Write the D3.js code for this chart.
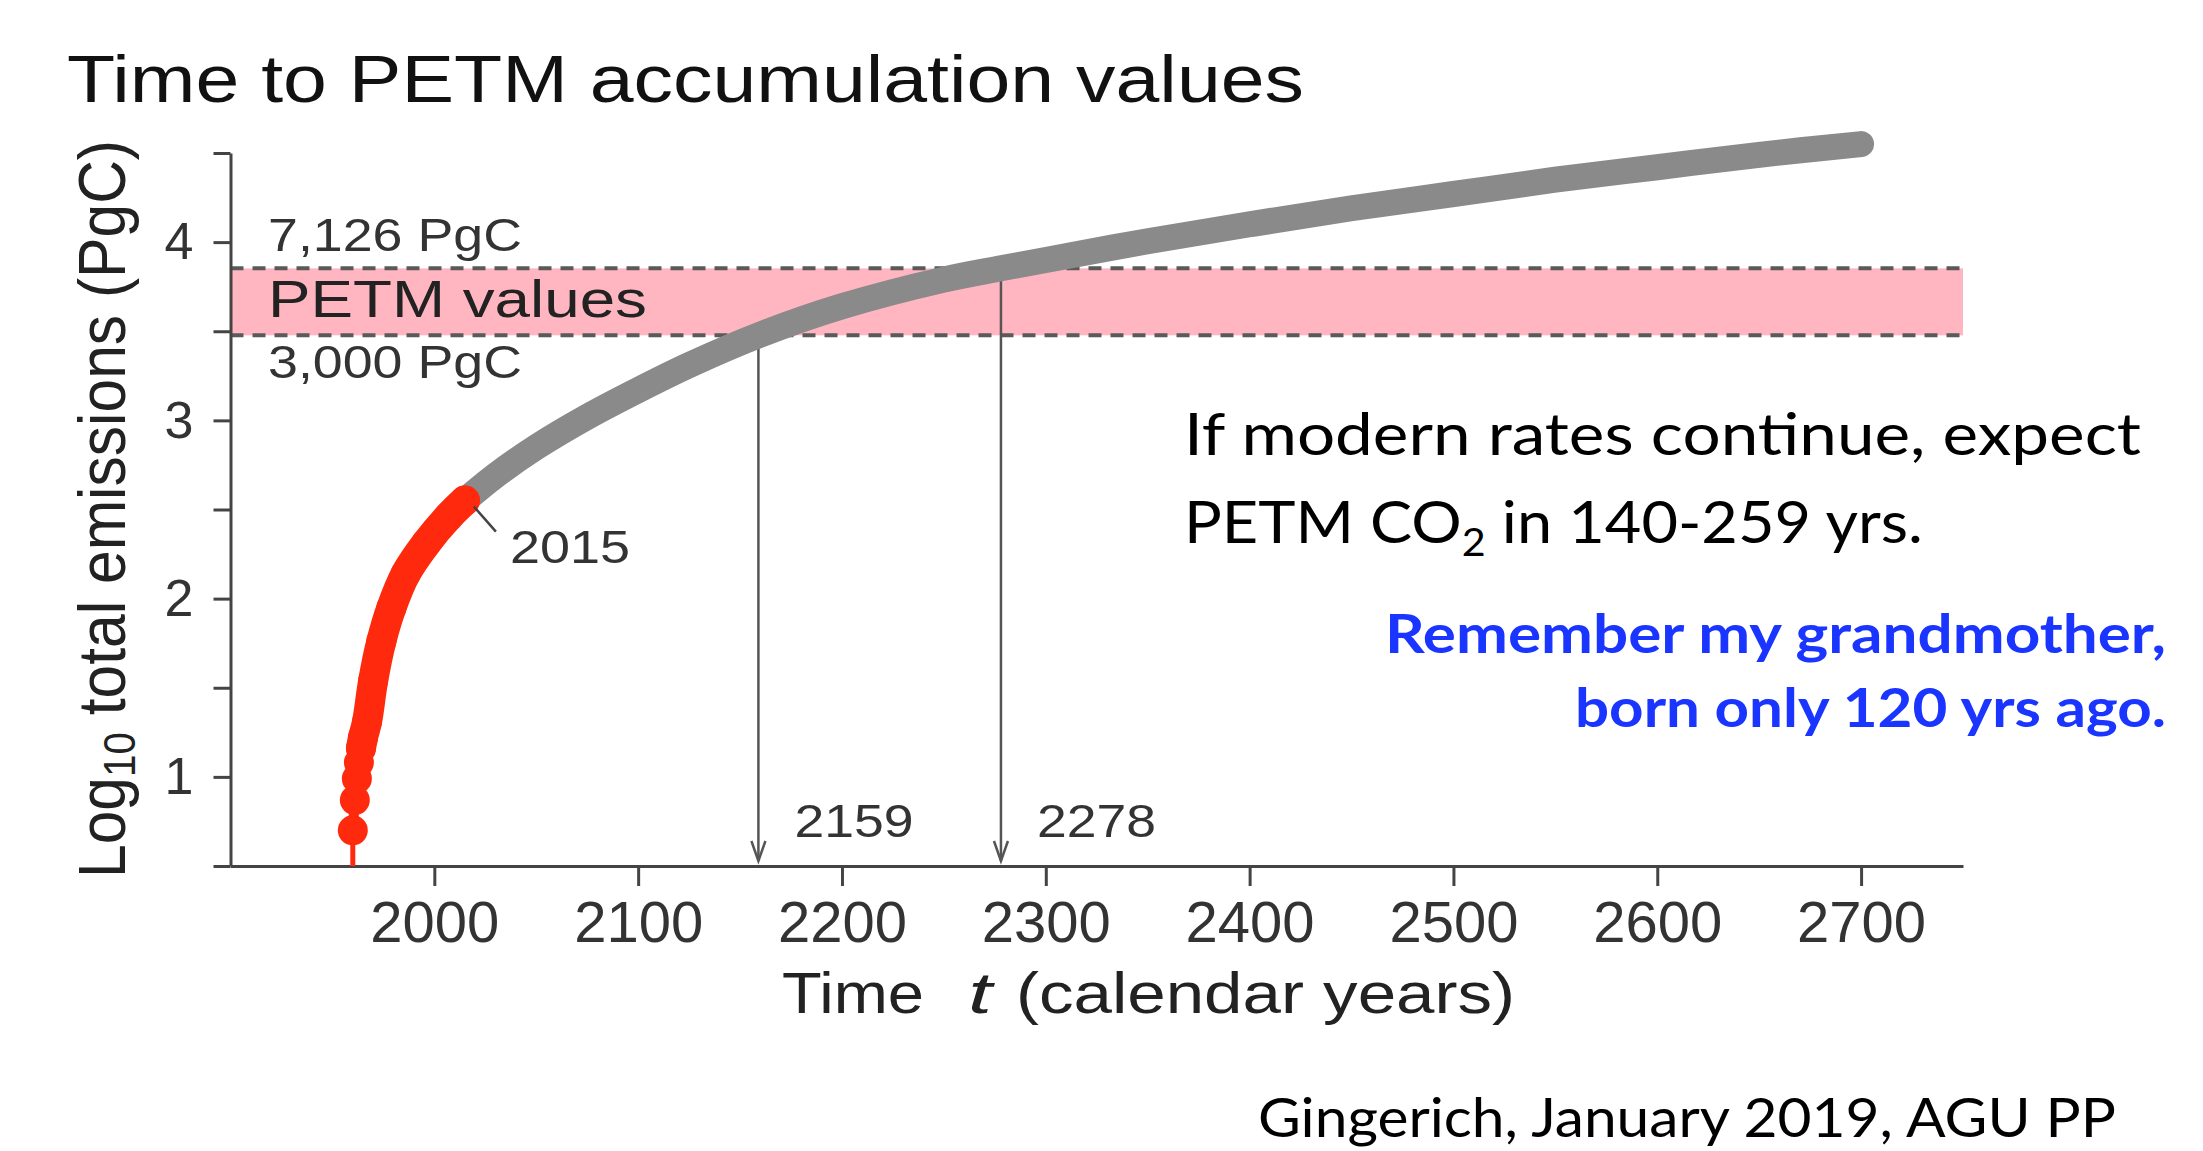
<!DOCTYPE html>
<html lang="en">
<head>
<meta charset="utf-8">
<title>Time to PETM accumulation values</title>
<script src="https://d3js.org/d3.v7.min.js"></script>
<style>
  html, body { margin: 0; padding: 0; background: #fff; }
  svg { display: block; }
</style>
</head>
<body>
<svg width="2203" height="1151"></svg>
<script>
// axis ticks
var xTicks = [2000, 2100, 2200, 2300, 2400, 2500, 2600, 2700];
var yTicks = [0.5, 1, 1.5, 2, 2.5, 3, 3.5, 4, 4.5];
var yLabelled = [1, 2, 3, 4];

// observed cumulative emissions, log10 PgC (red dots)
var obsYears  = [1960, 1961, 1962, 1963, 1964, 1965, 1967, 1970, 1974, 1979, 1986, 1996, 2007, 2015];
var obsValues = [0.70, 0.87, 0.99, 1.08, 1.16, 1.22, 1.31, 1.54, 1.76, 1.95, 2.14, 2.31, 2.46, 2.55];

// projection if modern rates continue (grey curve)
var projYears  = [2015, 2030, 2050, 2075, 2100, 2125, 2159, 2200, 2250, 2278, 2300, 2350, 2400, 2450, 2500, 2550, 2600, 2650, 2700];
var projValues = [2.55, 2.69, 2.85, 3.02, 3.17, 3.31, 3.477, 3.64, 3.79, 3.853, 3.90, 4.005, 4.10, 4.19, 4.27, 4.35, 4.42, 4.49, 4.55];

// PETM range in PgC and the years the projection reaches it
var petmLow = 3000, petmHigh = 7126;
var arrowYears = [2159, 2278];
var arrowLevels = [3000, 7126];

var svg = d3.select("svg");
var sans = "'Liberation Sans', Arial, sans-serif";
var note = "Lato, 'Open Sans', sans-serif";
var red = "#ff2a0d";

var x = d3.scaleLinear().domain([1900, 2750]).range([230.5, 1963]);
var y = d3.scaleLinear().domain([0.5, 4.5]).range([866, 153]);

function fit(sel, len) {
  return sel.attr("textLength", len).attr("lengthAdjust", "spacingAndGlyphs");
}

// title
fit(svg.append("text")
  .attr("x", 67).attr("y", 102)
  .attr("font-family", sans).attr("font-size", 66).attr("fill", "#111")
  .text("Time to PETM accumulation values"), 1237);

// PETM band
var bandTop = y(Math.log10(petmHigh)), bandBot = y(Math.log10(petmLow));
svg.append("rect")
  .attr("x", x(1900)).attr("y", bandTop)
  .attr("width", x(2750) - x(1900)).attr("height", bandBot - bandTop)
  .attr("fill", "#ffb6c1");

[bandTop, bandBot].forEach(function(yy) {
  svg.append("line")
    .attr("x1", x(1900)).attr("x2", x(2750))
    .attr("y1", yy).attr("y2", yy)
    .attr("stroke", "#5a5a5a").attr("stroke-width", 4)
    .attr("stroke-dasharray", "13,9");
});

fit(svg.append("text").attr("x", 268).attr("y", bandTop - 17)
  .attr("font-family", sans).attr("font-size", 46).attr("fill", "#333")
  .text("7,126 PgC"), 254);
fit(svg.append("text").attr("x", 268).attr("y", bandBot - 18)
  .attr("font-family", sans).attr("font-size", 52).attr("fill", "#222")
  .text("PETM values"), 379);
fit(svg.append("text").attr("x", 268).attr("y", bandBot + 43)
  .attr("font-family", sans).attr("font-size", 46).attr("fill", "#333")
  .text("3,000 PgC"), 254);

// arrows down to the axis
arrowYears.forEach(function(yr, i) {
  var ax = x(yr), tip = y(0.5) - 5;
  svg.append("line")
    .attr("x1", ax).attr("x2", ax)
    .attr("y1", y(Math.log10(arrowLevels[i]))).attr("y2", tip)
    .attr("stroke", "#555").attr("stroke-width", 2.5);
  svg.append("path")
    .attr("d", "M" + (ax - 7) + "," + (tip - 20) + "L" + ax + "," + tip + "L" + (ax + 7) + "," + (tip - 20))
    .attr("fill", "none").attr("stroke", "#555").attr("stroke-width", 2.5);
  fit(svg.append("text").attr("x", ax + 36).attr("y", tip - 24)
    .attr("font-family", sans).attr("font-size", 46).attr("fill", "#333")
    .text(yr), 119);
});

// axes
var xAxis = svg.append("g")
  .attr("transform", "translate(0," + y(0.5) + ")")
  .call(d3.axisBottom(x).tickValues(xTicks).tickSize(20).tickSizeOuter(0).tickPadding(15).tickFormat(d3.format("d")));
var yAxis = svg.append("g")
  .attr("transform", "translate(" + x(1900) + ",0)")
  .call(d3.axisLeft(y).tickValues(yTicks).tickSize(17).tickSizeOuter(0).tickPadding(20)
    .tickFormat(function(d) { return yLabelled.indexOf(d) >= 0 ? d : ""; }));

[xAxis, yAxis].forEach(function(g) {
  g.selectAll("path, line").attr("stroke", "#444").attr("stroke-width", 3);
  g.selectAll("text").attr("font-family", sans).attr("fill", "#333");
});
xAxis.selectAll("text").attr("font-size", 58);
yAxis.selectAll("text").attr("font-size", 52);

// axis titles
var yt = svg.append("text")
  .attr("transform", "translate(125," + 509 + ") rotate(-90)")
  .attr("text-anchor", "middle")
  .attr("font-family", sans).attr("font-size", 66).attr("fill", "#222");
yt.append("tspan").text("Log");
yt.append("tspan").attr("font-size", 44).attr("dy", 10).text("10");
yt.append("tspan").attr("dy", -10).text(" total emissions (PgC)");
fit(yt, 738);

fit(svg.append("text").attr("x", 782).attr("y", 1013)
  .attr("font-family", sans).attr("font-size", 58).attr("fill", "#222").text("Time"), 142);
fit(svg.append("text").attr("x", 968).attr("y", 1013)
  .attr("font-family", sans).attr("font-size", 58).attr("font-style", "italic").attr("fill", "#222").text("t"), 24);
fit(svg.append("text").attr("x", 1016).attr("y", 1013)
  .attr("font-family", sans).attr("font-size", 58).attr("fill", "#222").text("(calendar years)"), 499);

// projection curve
var line = d3.line()
  .x(function(d) { return x(d[0]); })
  .y(function(d) { return y(d[1]); })
  .curve(d3.curveCatmullRom);

svg.append("path")
  .datum(d3.zip(projYears, projValues))
  .attr("d", line)
  .attr("fill", "none").attr("stroke", "#8a8a8a")
  .attr("stroke-width", 26).attr("stroke-linecap", "round");

// observed red series
var obs = d3.zip(obsYears, obsValues);
svg.append("line")
  .attr("x1", x(obsYears[0])).attr("x2", x(obsYears[0]))
  .attr("y1", y(0.5)).attr("y2", y(obsValues[0]))
  .attr("stroke", red).attr("stroke-width", 5);
svg.append("path")
  .datum(obs)
  .attr("d", line)
  .attr("fill", "none").attr("stroke", red).attr("stroke-width", 10);
svg.append("path")
  .datum(obs.filter(function(d) { return d[0] >= 1964; }))
  .attr("d", line)
  .attr("fill", "none").attr("stroke", red)
  .attr("stroke-width", 30).attr("stroke-linecap", "round");
svg.selectAll("circle.obs")
  .data(obs)
  .enter().append("circle")
  .attr("class", "obs")
  .attr("cx", function(d) { return x(d[0]); })
  .attr("cy", function(d) { return y(d[1]); })
  .attr("r", 15)
  .attr("fill", red);

// 2015 label
var lx = x(2015), ly = y(obsValues[obsValues.length - 1]);
svg.append("line")
  .attr("x1", lx + 9).attr("y1", ly + 6)
  .attr("x2", lx + 31).attr("y2", ly + 31)
  .attr("stroke", "#444").attr("stroke-width", 2.5);
fit(svg.append("text").attr("x", lx + 45).attr("y", ly + 62)
  .attr("font-family", sans).attr("font-size", 46).attr("fill", "#333")
  .text("2015"), 120);

// notes
fit(svg.append("text").attr("x", 1184).attr("y", 455)
  .attr("font-family", note).attr("font-size", 58).attr("fill", "#000")
  .text("If modern rates continue, expect"), 957);
var l2 = svg.append("text").attr("x", 1184).attr("y", 543)
  .attr("font-family", note).attr("font-size", 58).attr("fill", "#000");
l2.append("tspan").text("PETM CO");
l2.append("tspan").attr("font-size", 38).attr("dy", 13).text("2");
l2.append("tspan").attr("dy", -13).text(" in 140-259 yrs.");
fit(l2, 739);

fit(svg.append("text").attr("x", 2166).attr("y", 653).attr("text-anchor", "end")
  .attr("font-family", note).attr("font-weight", "bold").attr("font-size", 54).attr("fill", "#1a35ff")
  .text("Remember my grandmother,"), 781);
fit(svg.append("text").attr("x", 2166).attr("y", 727).attr("text-anchor", "end")
  .attr("font-family", note).attr("font-weight", "bold").attr("font-size", 54).attr("fill", "#1a35ff")
  .text("born only 120 yrs ago."), 591);

fit(svg.append("text").attr("x", 1258).attr("y", 1137)
  .attr("font-family", note).attr("font-size", 54).attr("fill", "#000")
  .text("Gingerich, January 2019, AGU PP"), 858);
</script>
</body>
</html>
